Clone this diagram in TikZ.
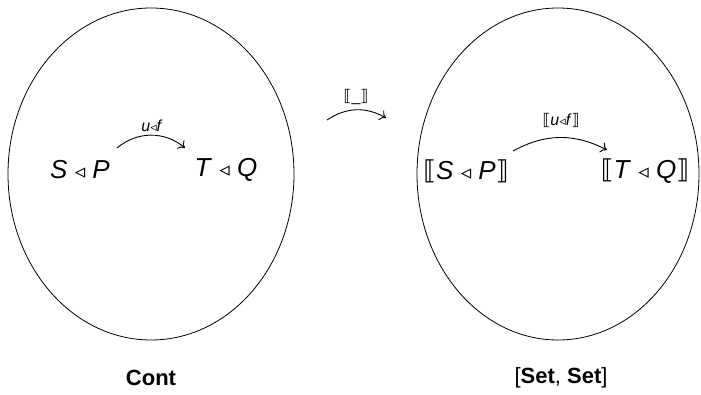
\documentclass[tikz,border=0pt]{standalone}
\usepackage{fontspec}
\setmainfont{Liberation Sans}
\newfontfamily\symfont{DejaVu Sans}
\usetikzlibrary{arrows.meta}
\newcommand{\tri}{{\symfont\scalebox{0.8}{◃}}}
\newcommand{\lsb}{{\symfont ⟦}}
\newcommand{\rsb}{{\symfont ⟧}}
\tikzset{
  blob/.style={draw, line width=0.8pt},
  obj/.style={font=\fontsize{26}{29}\selectfont, inner sep=1pt},
  lab/.style={font=\fontsize{16}{18}\selectfont, inner sep=1pt},
  cat/.style={font=\fontsize{22}{25}\selectfont, inner sep=1pt},
  mor/.style={line width=0.9pt, -{To[length=6pt,width=11pt]}},
}
\begin{document}
\begin{tikzpicture}[x=1pt,y=-1pt]
\useasboundingbox (0,0) rectangle (701,395);
\draw[blob] (151,174) ellipse [x radius=143, y radius=166];
\draw[blob] (558,174) ellipse [x radius=141, y radius=166];
\node[obj] (SP) at (80,170) {\textit{S} \tri{} \textit{P}};
\node[obj] (TQ) at (226,170) {\textit{T} \tri{} \textit{Q}};
\node[obj] (SSP) at (466,171) {\lsb\textit{S} \tri{} \textit{P}\rsb};
\node[obj] (STQ) at (645,171) {\lsb\textit{T} \tri{} \textit{Q}\rsb};
\coordinate (a1) at (117,148);
\coordinate (b1) at (185,148);
\draw[mor] (a1) to[bend left=40] (b1);
\node[lab] (l1) at (152,126) {\textit{u}\tri\textit{f}};
\coordinate (a2) at (327,120);
\coordinate (b2) at (386,118);
\draw[mor] (a2) to[bend left=32] (b2);
\node[lab] (l2) at (356,97) {\lsb\_\rsb};
\coordinate (a3) at (513,151);
\coordinate (b3) at (607,150);
\draw[mor] (a3) to[bend left=28] (b3);
\node[lab] (l3) at (561,120) {\lsb\textit{u}\tri\textit{f}\rsb};
\node[cat] (C) at (151,378) {\textbf{Cont}};
\node[cat] (SS) at (561,378) {[\textbf{Set}, \textbf{Set}]};
\end{tikzpicture}
\end{document}
